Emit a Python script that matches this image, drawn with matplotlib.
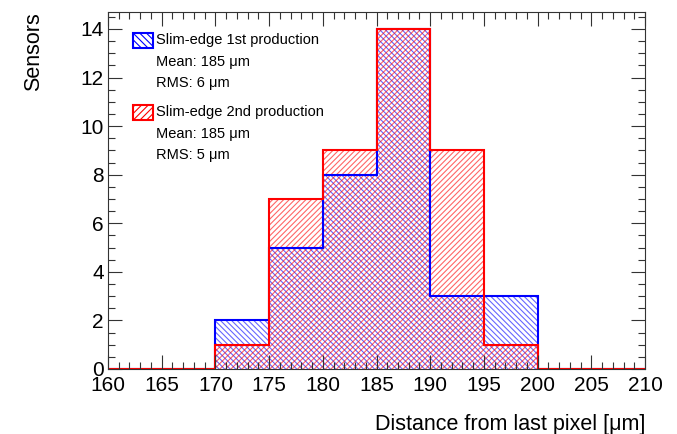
import matplotlib
matplotlib.use("Agg")
import matplotlib.pyplot as plt
import numpy as np
from matplotlib.patches import Rectangle
from matplotlib.ticker import MultipleLocator

plt.rcParams['font.family'] = ['Liberation Sans', 'DejaVu Sans']
plt.rcParams['hatch.linewidth'] = 0.8

edges = [160, 165, 170, 175, 180, 185, 190, 195, 200, 205, 210]
first_prod = [0, 0, 2, 5, 8, 14, 3, 3, 0, 0]
second_prod = [0, 0, 1, 7, 9, 14, 9, 1, 0, 0]
legend_labels = ["Slim-edge 1st production", "Slim-edge 2nd production"]
stats = [("Mean: 185 \u03bcm", "RMS: 6 \u03bcm"), ("Mean: 185 \u03bcm", "RMS: 5 \u03bcm")]
blue = "#0000ff"
red = "#ff0000"
hatch_blue = '\\' * 6
hatch_red = '/' * 6

fig = plt.figure(figsize=(6.77, 4.34), dpi=100)
ax = fig.add_axes([108/677, 1-369/434, (645-108)/677, (369-12)/434])

ax.stairs(first_prod, edges, fill=True, facecolor='none', edgecolor=blue, hatch=hatch_blue, linewidth=0, alpha=0.6)
ax.stairs(second_prod, edges, fill=True, facecolor='none', edgecolor=red, hatch=hatch_red, linewidth=0, alpha=0.6)
ax.stairs(first_prod, edges, color=blue, linewidth=1.5, baseline=None)
ax.stairs(second_prod, edges, color=red, linewidth=1.5, baseline=0)

ax.set_xlim(160, 210)
ax.set_ylim(0, 14.7)
ax.xaxis.set_major_locator(MultipleLocator(5))
ax.xaxis.set_minor_locator(MultipleLocator(1))
ax.yaxis.set_major_locator(MultipleLocator(2))
ax.yaxis.set_minor_locator(MultipleLocator(0.5))
ax.tick_params(which='both', direction='in', top=True, right=True, labelsize=15, color='#333333')
ax.tick_params(which='major', length=10, width=0.8)
ax.tick_params(which='minor', length=5, width=0.8)
ax.tick_params(axis='x', pad=5)
ax.tick_params(axis='y', pad=3)
for s in ax.spines.values():
    s.set_linewidth(0.8)
    s.set_color('#333333')

ax.set_ylabel("Sensors", fontsize=15.5, loc='top', labelpad=26)
ax.set_xlabel("Distance from last pixel [\u03bcm]", fontsize=15.5, loc='right', labelpad=14)

# custom legend
tr = ax.transAxes
def ax_x(px):
    return (px - 108) / 537
def ax_y(py):
    return (369 - py) / 357
colors = [blue, red]
hatches = ['\\' * 5, '/' * 5]
rows = [(33, 62, 83), (105, 134, 155)]
for i in range(2):
    y0, y1, y2 = rows[i]
    rect = Rectangle((ax_x(133), ax_y(y0 + 15)), ax_x(153) - ax_x(133), ax_y(y0) - ax_y(y0 + 15),
                     transform=tr, facecolor='none', edgecolor=colors[i], hatch=hatches[i], linewidth=1.5)
    ax.add_patch(rect)
    ax.text(ax_x(156), ax_y(y0 + 7), legend_labels[i], transform=tr, fontsize=10.5, va='center')
    ax.text(ax_x(156), ax_y(y1), stats[i][0], transform=tr, fontsize=10.5, va='center')
    ax.text(ax_x(156), ax_y(y2), stats[i][1], transform=tr, fontsize=10.5, va='center')

fig.savefig("out.png", dpi=100)
